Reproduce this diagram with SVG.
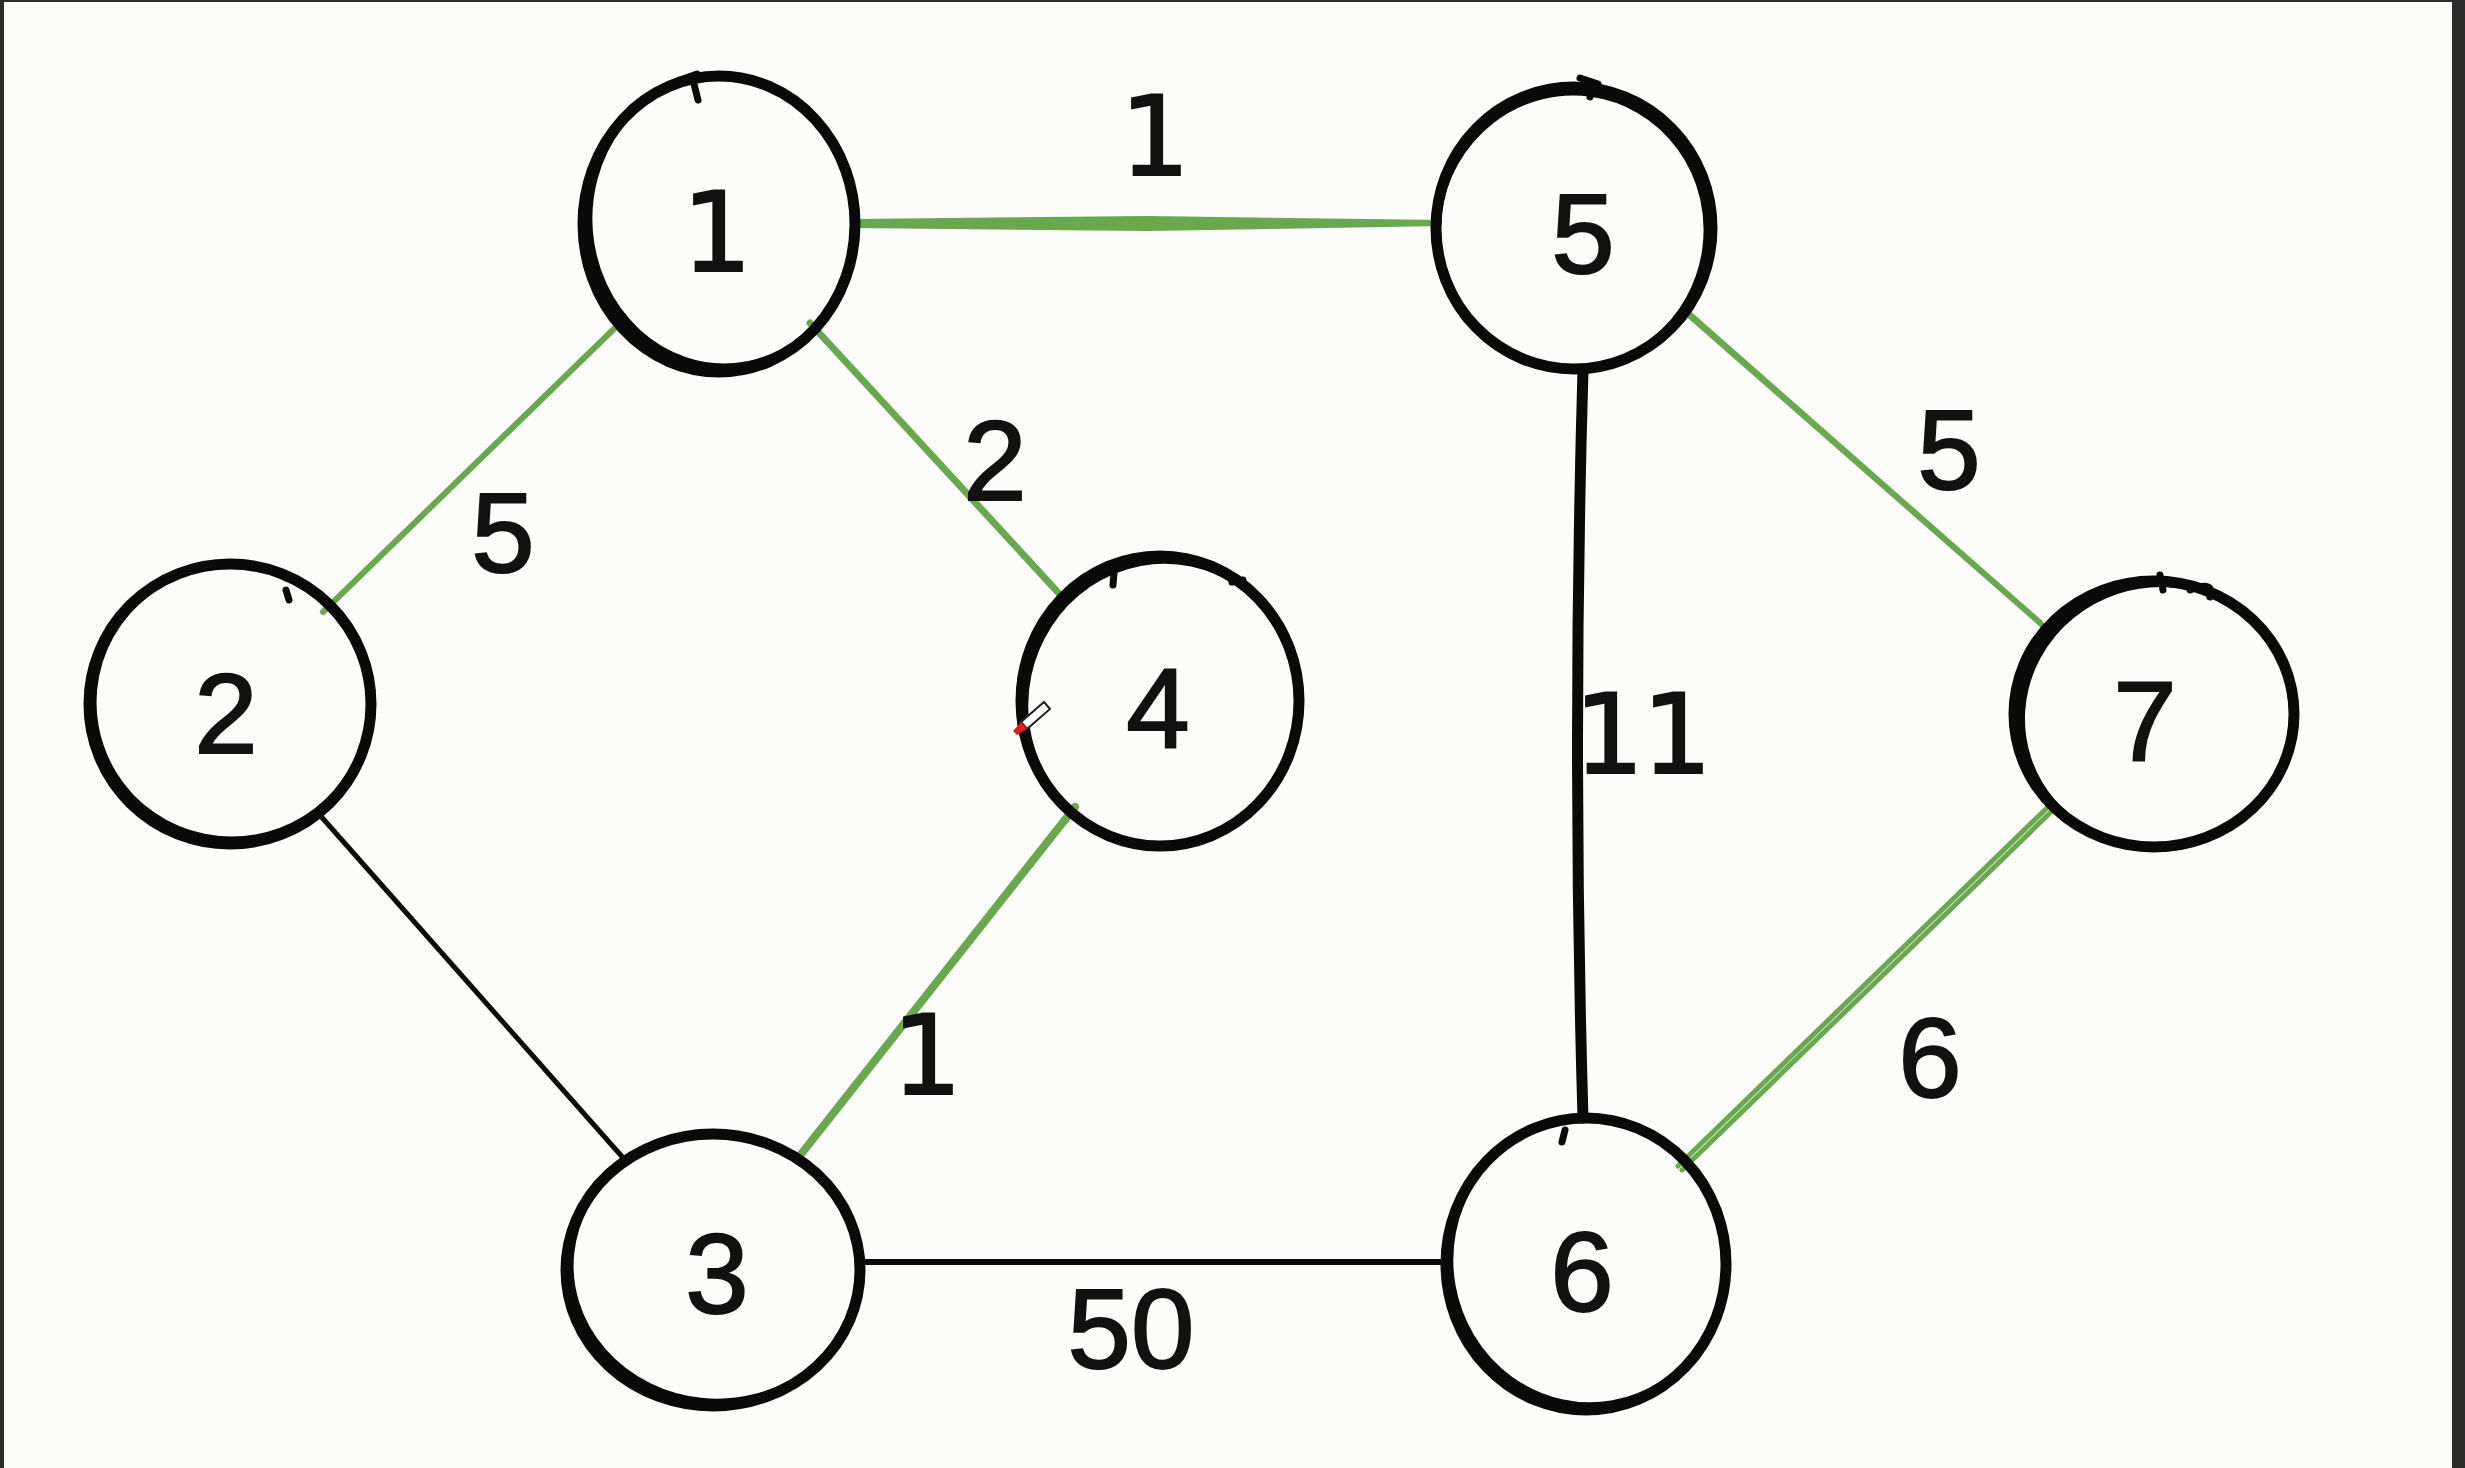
<svg xmlns="http://www.w3.org/2000/svg" width="2465" height="1468" viewBox="0 0 2465 1468">
  <defs>
    <style>
      .ring { fill: none; stroke: #0a0a0a; stroke-width: 11; stroke-linecap: round; }
      .ring2 { fill: none; stroke: #0a0a0a; stroke-width: 7; stroke-linecap: round; }
      .lbl { font-family: "Liberation Sans", Arial, sans-serif; font-size: 114px; fill: #111; stroke: #111; stroke-width: 2; text-anchor: middle; }
      .one { font-family: "DejaVu Sans", "Liberation Sans", sans-serif; font-size: 110px; fill: #111; stroke: #111; stroke-width: 2; text-anchor: middle; }
      .g { stroke: #6aa84f; fill: none; stroke-linecap: round; }
      .k { stroke: #0a0a0a; fill: none; stroke-linecap: round; }
    </style>
  </defs>
  <rect x="0" y="0" width="2465" height="1468" fill="#2b2b2b"/>
  <rect x="4" y="2" width="2448" height="1466" fill="#fcfcfa"/>

  <g id="connectors">
    <polygon points="853,219 1148,216 1442,220 1442,226 1148,231 853,228" fill="#6aa84f"/>
    <line class="g" x1="620" y1="323" x2="323" y2="612" stroke-width="6"/>
    <line class="g" x1="810" y1="323" x2="1065" y2="600" stroke-width="7"/>
    <line class="g" x1="1075" y1="807" x2="798" y2="1158" stroke-width="8"/>
    <line class="k" x1="318" y1="813" x2="625" y2="1160" stroke-width="5"/>
    <line class="k" x1="862" y1="1262" x2="1445" y2="1262" stroke-width="6"/>
    <path class="k" d="M1583 370 Q1572 745 1583 1118" stroke-width="11"/>
    <line class="g" x1="1683" y1="308" x2="2041" y2="623" stroke-width="5"/>
    <line class="g" x1="1686" y1="313" x2="2044" y2="627" stroke-width="5"/>
    <line class="g" x1="2050" y1="805" x2="1678" y2="1166" stroke-width="5"/>
    <line class="g" x1="2054" y1="809" x2="1682" y2="1170" stroke-width="5"/>
  </g>

  <g id="edge-labels">
    <text class="one" x="1155" y="175">1</text>
    <text class="lbl" x="503" y="572">5</text>
    <text class="lbl" x="995" y="500">2</text>
    <text class="lbl" x="1949" y="489">5</text>
    <text class="one" x="1642" y="773" letter-spacing="-2">11</text>
    <text class="one" x="927" y="1094">1</text>
    <text class="lbl" x="1930" y="1097">6</text>
    <text class="lbl" x="1131" y="1368">50</text>
  </g>

  <g id="node-1">
    <ellipse class="ring" cx="719" cy="224" rx="136" ry="148"/>
    <ellipse class="ring2" cx="722" cy="221" rx="133" ry="146" transform="rotate(-5 722 221)"/>
    <path class="ring2" d="M680 80 L697 74 M694 84 L698 100"/>
    <text class="one" x="717" y="271">1</text>
  </g>
  <g id="node-5">
    <ellipse class="ring" cx="1574" cy="228" rx="138" ry="141"/>
    <ellipse class="ring2" cx="1572" cy="231" rx="135" ry="139" transform="rotate(8 1572 231)"/>
    <path class="ring2" d="M1580 78 L1598 84 M1594 84 L1590 97"/>
    <text class="lbl" x="1583" y="273">5</text>
  </g>
  <g id="node-2">
    <ellipse class="ring" cx="230" cy="704" rx="141" ry="140"/>
    <ellipse class="ring2" cx="232" cy="702" rx="139" ry="138" transform="rotate(-10 232 702)"/>
    <path class="ring2" d="M216 565 L236 563 M286 590 L289 600"/>
    <text class="lbl" x="226" y="753">2</text>
  </g>
  <g id="node-4">
    <ellipse class="ring" cx="1160" cy="701" rx="139" ry="145"/>
    <ellipse class="ring2" cx="1162" cy="703" rx="137" ry="143" transform="rotate(12 1162 703)"/>
    <path class="ring2" d="M1114 573 L1113 585 M1232 582 L1243 580"/>
    <text class="lbl" x="1158" y="748">4</text>
    <g id="pencil">
      <polygon points="1021,722 1044,702 1050,709 1027,729" fill="#ffffff" stroke="#222" stroke-width="2"/>
      <polygon points="1021,722 1027,729 1017,735 1013,731" fill="#e01b1b"/>
    </g>
  </g>
  <g id="node-7">
    <ellipse class="ring" cx="2154" cy="714" rx="140" ry="133"/>
    <ellipse class="ring2" cx="2158" cy="716" rx="137" ry="132" transform="rotate(-18 2158 716)"/>
    <path class="ring2" d="M2160 575 L2163 590 M2190 590 Q2215 580 2210 597"/>
    <text class="lbl" x="2145" y="761">7</text>
  </g>
  <g id="node-3">
    <ellipse class="ring" cx="713" cy="1270" rx="147" ry="136"/>
    <ellipse class="ring2" cx="715" cy="1268" rx="145" ry="134" transform="rotate(6 715 1268)"/>
    <text class="lbl" x="717" y="1313">3</text>
  </g>
  <g id="node-6">
    <ellipse class="ring" cx="1586" cy="1264" rx="140" ry="146"/>
    <ellipse class="ring2" cx="1588" cy="1262" rx="138" ry="144" transform="rotate(-10 1588 1262)"/>
    <path class="ring2" d="M1535 1128 L1560 1120 M1565 1130 L1562 1142"/>
    <text class="lbl" x="1582" y="1311">6</text>
  </g>
</svg>
